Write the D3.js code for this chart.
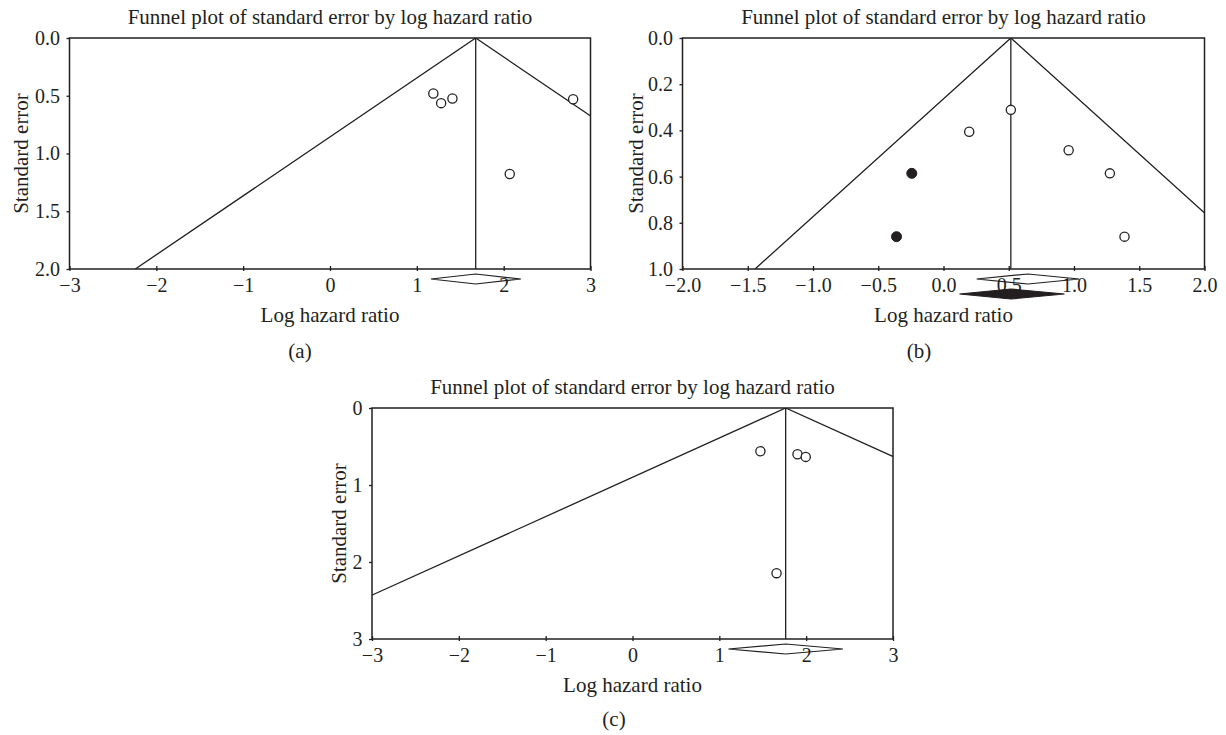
<!DOCTYPE html>
<html>
<head>
<meta charset="utf-8">
<script src="https://cdn.jsdelivr.net/npm/d3@7"></script>
<style>
  body { margin: 0; background: #fff; }
  svg { display: block; }
  text { font-family: "Liberation Serif", "Times New Roman", serif; fill: #231f20; }
</style>
</head>
<body>
<svg id="chart" width="1226" height="735"></svg>
<script>
// Panel (a)
var aLogHR = [1.19, 1.28, 1.41, 2.80, 2.07];
var aSE = [0.48, 0.564, 0.524, 0.53, 1.177];
var aPooled = 1.678;
var aCI = [1.163, 2.198];
var aXTicks = [-3, -2, -1, 0, 1, 2, 3];
var aYTicks = [0, 0.5, 1.0, 1.5, 2.0];

// Panel (b): observed studies plus imputed (filled) studies
var bLogHR = [0.516, 0.197, 0.959, 1.275, 1.387];
var bSE = [0.311, 0.406, 0.486, 0.586, 0.860];
var bImpLogHR = [-0.243, -0.360];
var bImpSE = [0.586, 0.860];
var bPooled = 0.516;
var bObsDiamond = [0.254, 0.647, 1.040];
var bAdjDiamond = [0.122, 0.516, 0.927];
var bXTicks = [-2.0, -1.5, -1.0, -0.5, 0.0, 0.5, 1.0, 1.5, 2.0];
var bYTicks = [0, 0.2, 0.4, 0.6, 0.8, 1.0];

// Panel (c)
var cLogHR = [1.473, 1.90, 1.995, 1.659];
var cSE = [0.561, 0.600, 0.635, 2.145];
var cPooled = 1.764;
var cCI = [1.105, 2.423];
var cXTicks = [-3, -2, -1, 0, 1, 2, 3];
var cYTicks = [0, 1, 2, 3];

var TITLE = "Funnel plot of standard error by log hazard ratio";
var INK = "#231f20";

var svg = d3.select("#chart");

function fmtMinus(f) {
  return d => f(d).replace("-", "\u2212");
}

function drawPanel(opts) {
  let g = svg.append("g");
  let x = d3.scaleLinear().domain(opts.xDomain).range([opts.left, opts.right]);
  let y = d3.scaleLinear().domain(opts.yDomain).range([opts.top, opts.bottom]);
  let seMax = opts.yDomain[1];
  let clipId = "clip-" + opts.id;

  g.append("clipPath")
    .attr("id", clipId)
    .append("rect")
      .attr("x", opts.left)
      .attr("y", opts.top)
      .attr("width", opts.right - opts.left)
      .attr("height", opts.bottom - opts.top);

  // Title
  g.append("text")
    .attr("x", (opts.left + opts.right) / 2)
    .attr("y", opts.top - 14)
    .attr("text-anchor", "middle")
    .attr("font-size", 21)
    .text(TITLE);

  // Funnel (95% pseudo confidence limits)
  let funnel = g.append("g").attr("clip-path", `url(#${clipId})`);
  let line = d3.line().x(d => x(d[0])).y(d => y(d[1]));
  funnel.append("path")
    .attr("d", line([[opts.pooled - 1.96 * seMax, seMax], [opts.pooled, 0], [opts.pooled + 1.96 * seMax, seMax]]))
    .attr("fill", "none")
    .attr("stroke", INK)
    .attr("stroke-width", 1.3);

  // Vertical line at pooled estimate
  g.append("line")
    .attr("x1", x(opts.pooled))
    .attr("x2", x(opts.pooled))
    .attr("y1", y(0))
    .attr("y2", y(seMax))
    .attr("stroke", INK)
    .attr("stroke-width", 1.3);

  // Axes
  let xAxis = g.append("g")
    .attr("transform", `translate(0, ${opts.bottom})`)
    .call(d3.axisBottom(x)
      .tickValues(opts.xTicks)
      .tickSizeInner(2)
      .tickSizeOuter(0)
      .tickPadding(6.5)
      .tickFormat(fmtMinus(d3.format(opts.xFormat))));
  xAxis.select(".domain").remove();
  xAxis.selectAll(".tick line").attr("y1", -3).attr("stroke", INK).attr("stroke-width", 1.3);
  xAxis.selectAll(".tick text").attr("font-size", 20).attr("font-family", null).attr("fill", INK);

  let yAxis = g.append("g")
    .attr("transform", `translate(${opts.left}, 0)`)
    .call(d3.axisLeft(y)
      .tickValues(opts.yTicks)
      .tickSizeInner(3)
      .tickSizeOuter(0)
      .tickPadding(6.5)
      .tickFormat(d3.format(opts.yFormat)));
  yAxis.select(".domain").remove();
  yAxis.selectAll(".tick line").attr("stroke", INK).attr("stroke-width", 1.3);
  yAxis.selectAll(".tick text").attr("font-size", 20).attr("font-family", null).attr("fill", INK);

  // Plot frame
  g.append("rect")
    .attr("x", opts.left)
    .attr("y", opts.top)
    .attr("width", opts.right - opts.left)
    .attr("height", opts.bottom - opts.top)
    .attr("fill", "none")
    .attr("stroke", INK)
    .attr("stroke-width", 1.5);

  // Axis labels
  g.append("text")
    .attr("x", (opts.left + opts.right) / 2)
    .attr("y", opts.bottom + 52.5)
    .attr("text-anchor", "middle")
    .attr("font-size", 21)
    .text("Log hazard ratio");

  g.append("text")
    .attr("transform", `translate(${opts.left - opts.yLabelOffset}, ${(opts.top + opts.bottom) / 2}) rotate(-90)`)
    .attr("text-anchor", "middle")
    .attr("font-size", 21)
    .text("Standard error");

  // Studies
  g.selectAll(".study")
    .data(d3.zip(opts.logHR, opts.se))
    .enter().append("circle")
      .attr("class", "study")
      .attr("cx", d => x(d[0]))
      .attr("cy", d => y(d[1]))
      .attr("r", 4.6)
      .attr("fill", "#fff")
      .attr("stroke", INK)
      .attr("stroke-width", 1.3);

  if (opts.impLogHR) {
    g.selectAll(".imputed")
      .data(d3.zip(opts.impLogHR, opts.impSE))
      .enter().append("circle")
        .attr("class", "imputed")
        .attr("cx", d => x(d[0]))
        .attr("cy", d => y(d[1]))
        .attr("r", 5)
        .attr("fill", INK)
        .attr("stroke", INK)
        .attr("stroke-width", 1);
  }

  // Summary diamonds below the axis
  opts.diamonds.forEach(dm => {
    let cy = opts.bottom + dm.offset;
    let pts = [[x(dm.values[0]), cy], [x(dm.values[1]), cy - 5], [x(dm.values[2]), cy], [x(dm.values[1]), cy + 5]];
    g.append("path")
      .attr("d", d3.line()(pts) + "Z")
      .attr("fill", dm.filled ? INK : "#fff")
      .attr("fill-opacity", dm.filled ? 1 : 0)
      .attr("stroke", INK)
      .attr("stroke-width", 1.2);
  });

  // Sub-figure label
  g.append("text")
    .attr("x", opts.labelX)
    .attr("y", opts.labelY)
    .attr("text-anchor", "middle")
    .attr("font-size", 21)
    .text(opts.label);
}

drawPanel({
  id: "a", label: "(a)", labelX: 300, labelY: 358,
  left: 69.5, right: 590.5, top: 38, bottom: 269, yLabelOffset: 42,
  xDomain: [-3, 3], yDomain: [0, 2],
  xTicks: aXTicks, yTicks: aYTicks, xFormat: "d", yFormat: ".1f",
  logHR: aLogHR, se: aSE, pooled: aPooled,
  diamonds: [{ values: [aCI[0], aPooled, aCI[1]], offset: 10, filled: false }]
});

drawPanel({
  id: "b", label: "(b)", labelX: 919, labelY: 358,
  left: 682.5, right: 1204.5, top: 38, bottom: 269, yLabelOffset: 40,
  xDomain: [-2, 2], yDomain: [0, 1],
  xTicks: bXTicks, yTicks: bYTicks, xFormat: ".1f", yFormat: ".1f",
  logHR: bLogHR, se: bSE, impLogHR: bImpLogHR, impSE: bImpSE, pooled: bPooled,
  diamonds: [
    { values: bObsDiamond, offset: 10, filled: false },
    { values: bAdjDiamond, offset: 25, filled: true }
  ]
});

drawPanel({
  id: "c", label: "(c)", labelX: 614, labelY: 726,
  left: 372, right: 893, top: 408, bottom: 639, yLabelOffset: 26,
  xDomain: [-3, 3], yDomain: [0, 3],
  xTicks: cXTicks, yTicks: cYTicks, xFormat: "d", yFormat: "d",
  logHR: cLogHR, se: cSE, pooled: cPooled,
  diamonds: [{ values: [cCI[0], cPooled, cCI[1]], offset: 10, filled: false }]
});
</script>
</body>
</html>
